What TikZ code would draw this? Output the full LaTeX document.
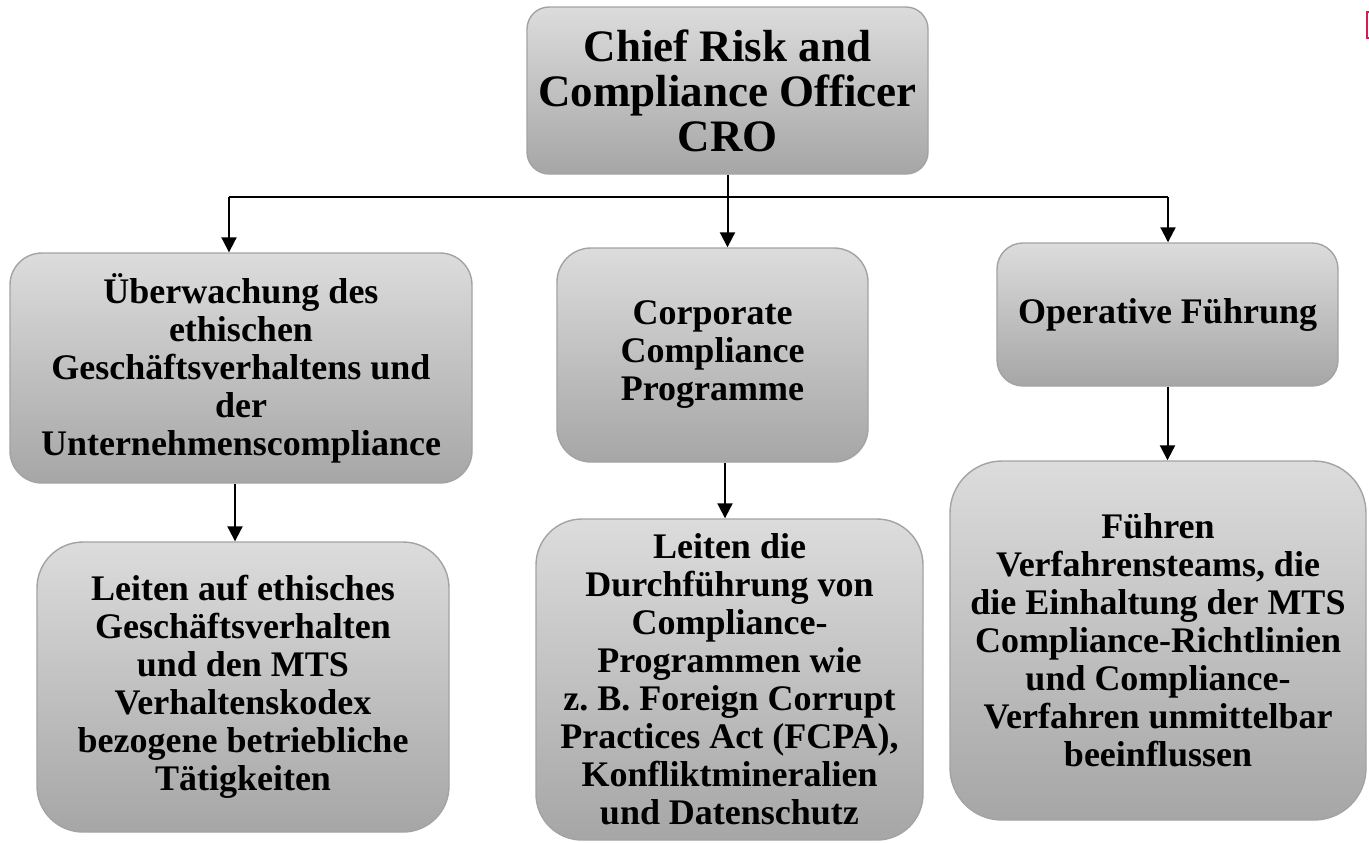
\documentclass[tikz,border=0pt]{standalone}
\usepackage{fontspec}
\setmainfont{Liberation Serif}
\usetikzlibrary{arrows.meta}
\definecolor{boxtop}{HTML}{DCDCDC}
\definecolor{boxbot}{HTML}{A6A6A6}
\definecolor{boxline}{HTML}{A3A3A3}
\definecolor{markred}{HTML}{D81B50}
\frenchspacing
\begin{document}
\begin{tikzpicture}[x=0.5pt,y=-0.5pt,
  orgbox/.style={draw=boxline, line width=0.7pt, top color=boxtop, bottom color=boxbot,
    align=center, inner sep=0pt, font=\bfseries\fontsize{18}{19}\selectfont},
  link/.style={line width=1pt, -{Triangle[width=7.5pt,length=7.5pt]}}]
\useasboundingbox (0,0) rectangle (1369,842);
\node[orgbox, minimum width=200.5pt, minimum height=83.5pt, rounded corners=11pt,
  font=\bfseries\fontsize{22.5}{22.5}\selectfont] (cro) at (727.5,90.5) {Chief Risk and\\Compliance Officer\\CRO};
\node[orgbox, minimum width=231pt, minimum height=115pt, rounded corners=16pt] (ethik) at (241,368) {Überwachung des\\ethischen\\Geschäftsverhaltens und\\der\\Unternehmenscompliance};
\node[orgbox, minimum width=155.5pt, minimum height=107pt, rounded corners=17pt] (corp) at (712.5,355) {Corporate\\Compliance\\Programme};
\node[orgbox, minimum width=170.5pt, minimum height=71.5pt, rounded corners=13pt] (oper) at (1167.5,314.5) {Operative Führung};
\node[orgbox, minimum width=206pt, minimum height=145pt, rounded corners=23pt] (leitethik) at (243,687) {Leiten auf ethisches\\Geschäftsverhalten\\und den MTS\\Verhaltenskodex\\bezogene betriebliche\\Tätigkeiten};
\node[orgbox, minimum width=193.5pt, minimum height=160.5pt, rounded corners=23pt] (leitcorp) at (729.5,679.5) {Leiten die\\Durchführung von\\Compliance-\\Programmen wie\\z. B. Foreign Corrupt\\Practices Act (FCPA),\\Konfliktmineralien\\und Datenschutz};
\node[orgbox, minimum width=208pt, minimum height=179.5pt, rounded corners=26pt] (fuehren) at (1158,640.5) {Führen\\Verfahrensteams, die\\die Einhaltung der MTS\\Compliance-Richtlinien\\und Compliance-\\Verfahren unmittelbar\\beeinflussen};
% bus below the CRO
\coordinate (busl) at (229,197);
\coordinate (busr) at (1168,197);
\draw[line width=1pt] (busl) -- (busr);
\draw[link] (cro.south) -- (cro.south |- corp.north);
\draw[link] (busl) -- (busl |- ethik.north);
\draw[link] (busr) -- (busr |- oper.north);
\draw[link] (ethik.south -| 235,0) -- (leitethik.north -| 235,0);
\draw[link] (corp.south -| 725,0) -- (leitcorp.north -| 725,0);
\draw[link] (oper.south) -- (oper.south |- fuehren.north);
% mark at the right edge
\draw[markred, line width=1pt] (1369,12) -- (1366.5,12) -- (1366.5,38) -- (1369,38);
\end{tikzpicture}
\end{document}
